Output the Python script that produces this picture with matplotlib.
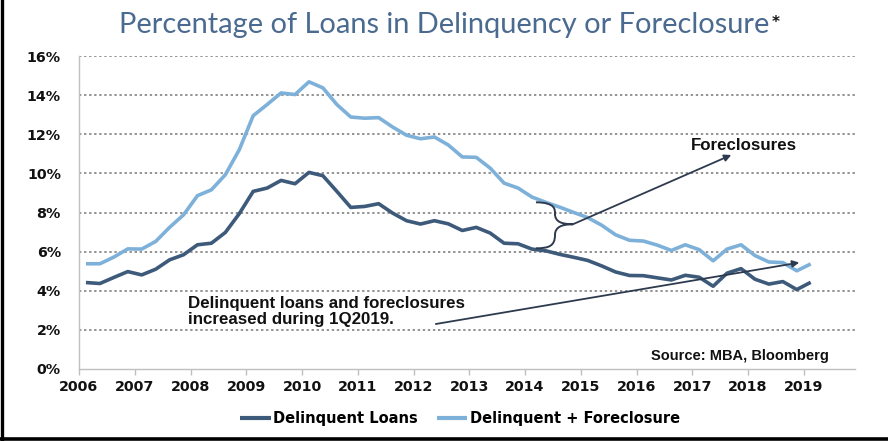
import matplotlib
matplotlib.use("Agg")
import matplotlib.pyplot as plt
from matplotlib.path import Path
from matplotlib.patches import PathPatch
from matplotlib.lines import Line2D

# ---------------- data ----------------
quarters = [f"{q}Q{y}" for y in range(2006, 2020) for q in range(1, 5)][:53]

delinquent = [4.42, 4.37, 4.68, 4.98, 4.81, 5.10, 5.58, 5.84, 6.35, 6.43,
              6.98, 7.94, 9.08, 9.25, 9.64, 9.47, 10.05, 9.88, 9.08, 8.26,
              8.31, 8.45, 7.97, 7.58, 7.41, 7.58, 7.42, 7.08, 7.24, 6.95,
              6.43, 6.40, 6.13, 6.04, 5.86, 5.71, 5.55, 5.27, 4.96, 4.78,
              4.77, 4.66, 4.55, 4.79, 4.69, 4.23, 4.90, 5.13, 4.59, 4.34,
              4.47, 4.06, 4.43]

delinquent_plus_foreclosure = [5.38, 5.38, 5.72, 6.14, 6.13, 6.52, 7.24, 7.88, 8.86, 9.16,
                               9.93, 11.21, 12.95, 13.52, 14.11, 14.03, 14.68, 14.37, 13.52, 12.88,
                               12.82, 12.85, 12.37, 11.95, 11.77, 11.86, 11.45, 10.84, 10.82, 10.27,
                               9.50, 9.25, 8.79, 8.52, 8.27, 8.00, 7.74, 7.35, 6.86, 6.58,
                               6.54, 6.33, 6.06, 6.35, 6.10, 5.53, 6.13, 6.35, 5.80, 5.47,
                               5.44, 5.02, 5.37]

year_ticks = list(range(2006, 2020))
y_ticks = [0, 2, 4, 6, 8, 10, 12, 14, 16]
y_tick_labels = [f"{v}%" for v in y_ticks]

series_names = ["Delinquent Loans", "Delinquent + Foreclosure"]
title_text = "Percentage of Loans in Delinquency or Foreclosure"


def quarter_pos(label):
    q = int(label[0])
    y = int(label[2:])
    return y + (q - 1) / 4 + 0.125


x = [quarter_pos(q) for q in quarters]

# ---------------- style ----------------
DARK = "#3D5A7A"
LIGHT = "#7EB1D9"
TITLE_C = "#4A6A90"
ARROW_C = "#2E3B4E"
GRID_C = "#8A8A8A"
SPINE_C = "#BFBFBF"
TICK_FONT = dict(family="DejaVu Sans", weight="bold", size=10.3)

W, H = 888, 441
fig = plt.figure(figsize=(W / 100, H / 100), dpi=100)
ax = fig.add_axes([79 / W, 1 - 369 / H, (855 - 79) / W, (369 - 56) / H])

ax.set_xlim(2006, 2006 + (855 - 79) / 55.75)
ax.set_ylim(0, 16)

for v in y_ticks[1:]:
    ax.axhline(v, color=GRID_C, lw=1.3, linestyle=(0, (1.3, 1.5)), zorder=1)

l1, = ax.plot(x, delinquent, color=DARK, lw=2.6, zorder=3,
              solid_joinstyle="round", solid_capstyle="butt")
l2, = ax.plot(x, delinquent_plus_foreclosure, color=LIGHT, lw=2.6, zorder=3,
              solid_joinstyle="round", solid_capstyle="butt")

for s in ["top", "right"]:
    ax.spines[s].set_visible(False)
for s in ["left", "bottom"]:
    ax.spines[s].set_color(SPINE_C)
    ax.spines[s].set_linewidth(1.0)

ax.set_yticks(y_ticks)
ax.set_yticklabels(y_tick_labels, fontdict=TICK_FONT, color="#111111")
ax.tick_params(axis="y", length=0, pad=13)
ax.set_xticks(year_ticks)
ax.set_xticklabels([str(y) for y in year_ticks], fontdict=TICK_FONT, color="#111111")
ax.tick_params(axis="x", length=4, width=1, color=SPINE_C, direction="out", pad=4)

# ---------------- annotations ----------------
ann_font = dict(family="Liberation Sans", weight="bold", color="#111111")

ax.annotate("", xy=(2017.70, 10.94), xytext=(2014.86, 7.40),
            arrowprops=dict(arrowstyle="-|>", color=ARROW_C, lw=1.3,
                            mutation_scale=10, shrinkA=0, shrinkB=0), zorder=5)
ax.annotate("", xy=(2018.92, 5.44), xytext=(2012.40, 2.30),
            arrowprops=dict(arrowstyle="-|>", color=ARROW_C, lw=1.3,
                            mutation_scale=10, shrinkA=0, shrinkB=0), zorder=5)

brace_verts = [
    (2014.197, 8.52),
    (2014.556, 8.52), (2014.538, 8.13), (2014.538, 7.92),
    (2014.538, 7.52), (2014.664, 7.40), (2014.861, 7.40),
    (2014.664, 7.40), (2014.538, 7.26), (2014.538, 6.85),
    (2014.538, 6.29), (2014.430, 6.17), (2014.197, 6.17),
]
brace_codes = [Path.MOVETO] + [Path.CURVE4] * 12
ax.add_patch(PathPatch(Path(brace_verts, brace_codes), facecolor="none",
                       edgecolor=ARROW_C, lw=1.4, zorder=5))

ax.text(2016.98, 11.45, "Foreclosures", fontsize=12.2, ha="left", va="center", **ann_font)
ax.text(2007.96, 2.95, "Delinquent loans and foreclosures\nincreased during 1Q2019.",
        fontsize=12.2, ha="left", va="center", linespacing=1.05, **ann_font)
ax.text(2019.45, 0.66, "Source: MBA, Bloomberg", fontsize=10.5, ha="right",
        va="center", **ann_font)

# ---------------- legend ----------------
leg = fig.legend([l1, l2], series_names, loc="center", bbox_to_anchor=(0.518, 0.05),
                 ncol=2, frameon=False, handlelength=2.1, handletextpad=0.15,
                 columnspacing=1.3, prop=dict(family="DejaVu Sans", weight="bold", size=10.5))
for h in leg.legend_handles:
    h.set_linewidth(3)

# ---------------- title ----------------
title = fig.text(0.5, 1 - 33 / H, title_text, ha="center", va="baseline",
                 fontsize=22, family="Lato", color=TITLE_C)
fig.canvas.draw()
r = fig.canvas.get_renderer()
bb = title.get_window_extent(r)
title.set_fontsize(22 * 647 / bb.width)
fig.canvas.draw()
bb = title.get_window_extent(r)
fig.text((bb.x1 + 2) / W, 1 - 22 / H, "*", ha="left", va="center",
         fontsize=11, family="DejaVu Sans", weight="bold", color="#111111")

# ---------------- frame border (left & bottom) ----------------
fig.add_artist(Line2D([1.5 / W, 1.5 / W], [0, 1], transform=fig.transFigure,
                      color="black", lw=2.4))
fig.add_artist(Line2D([0, 1], [2.5 / H, 2.5 / H], transform=fig.transFigure,
                      color="black", lw=2.6))

fig.savefig("out.png", dpi=100)
